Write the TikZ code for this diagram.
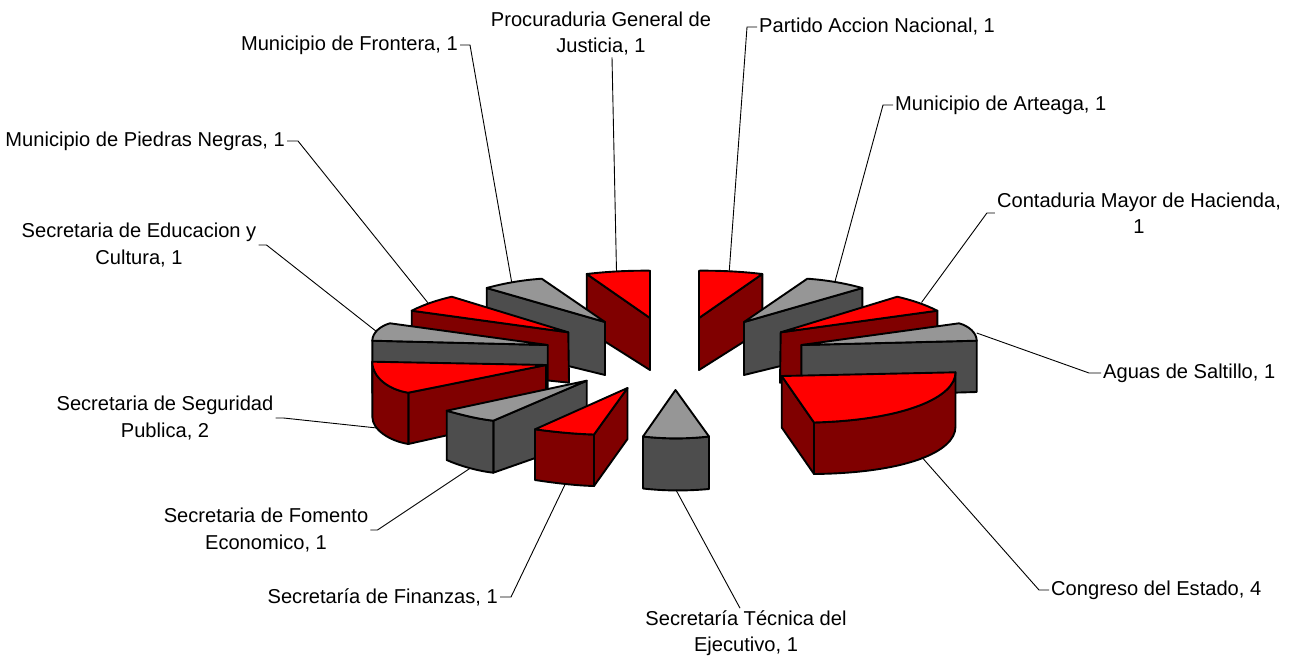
\documentclass[tikz,border=0pt]{standalone}
\usepackage{fontspec}
\setmainfont{Liberation Sans}
\definecolor{pieRed}{RGB}{255,0,0}
\definecolor{pieDarkRed}{RGB}{128,0,0}
\definecolor{pieGrey}{RGB}{150,150,150}
\definecolor{pieDarkGrey}{RGB}{77,77,77}
\begin{document}
\begin{tikzpicture}[x=1pt,y=-1pt,
  face/.style={draw=black,line width=1.9pt,line join=round},
  redtop/.style={face,fill=pieRed},
  redside/.style={face,fill=pieDarkRed},
  greytop/.style={face,fill=pieGrey},
  greyside/.style={face,fill=pieDarkGrey},
  leader/.style={draw=black,line width=0.9pt},
  lbl/.style={inner sep=0pt,font=\fontsize{20.1}{26.3}\selectfont,align=center}]
\useasboundingbox (0,0) rectangle (1290,659);

% ---------- back slices ----------
% Procuraduria
\draw[redside] (586.7,274) -- (650,318) -- (650,370) -- (586.7,330) -- cycle;
\draw[redtop] (586.7,274) .. controls (608,271.5) and (629,270.5) .. (650,270.7) -- (650,318) -- cycle;
% Partido
\draw[redside] (762.3,274) -- (699,318) -- (699,370) -- (762.3,330) -- cycle;
\draw[redtop] (762.3,274) .. controls (741,271.5) and (720,270.5) .. (699,270.7) -- (699,318) -- cycle;
% Frontera
\draw[greyside] (486.7,288) -- (605,322) -- (605,375) -- (486.7,346) -- cycle;
\draw[greytop] (486.7,288) .. controls (505,283) and (523,280) .. (541.7,278.7) -- (605,322) -- cycle;
% Arteaga
\draw[greyside] (862.3,288) -- (744,322) -- (744,375) -- (862.3,346) -- cycle;
\draw[greytop] (862.3,288) .. controls (844,283) and (826,280) .. (807.3,278.7) -- (744,322) -- cycle;
% Piedras Negras
\draw[redside] (411.7,310.7) -- (568.3,332.3) -- (569,382.7) -- (411.7,366) -- cycle;
\draw[redtop] (411.7,310.7) .. controls (425,304) and (438,300) .. (451.7,296.7) -- (568.3,332.3) -- cycle;
% Contaduria
\draw[redside] (937.3,310.7) -- (780.7,332.3) -- (780,382.7) -- (937.3,366) -- cycle;
\draw[redtop] (937.3,310.7) .. controls (924,304) and (911,300) .. (897.3,296.7) -- (780.7,332.3) -- cycle;
% Educacion
\draw[greyside] (372.3,340.7) -- (547.7,345) -- (547.7,397) -- (372.3,393) -- cycle;
\draw[greytop] (372.3,340.7) .. controls (372.3,333) and (380,326) .. (390,323.3) -- (547.7,345) -- cycle;
% Aguas
\draw[greyside] (976.7,340.7) -- (801.3,345) -- (801.3,397) -- (976.7,392) -- cycle;
\draw[greytop] (976.7,340.7) .. controls (976.7,333) and (969,326) .. (959,323.3) -- (801.3,345) -- cycle;

% ---------- front slices ----------
% Seguridad
\draw[redside] (408.3,392.7) -- (546,365) -- (546,413) -- (408.3,444) -- cycle;
\draw[redside] (372.3,361.7) .. controls (372.3,378) and (390,390) .. (408.3,392.7) -- (408.3,444) .. controls (390,441) and (372.3,430) .. (372.3,416.7) -- cycle;
\draw[redtop] (372.3,361.7) .. controls (372.3,378) and (390,390) .. (408.3,392.7) -- (546,365) -- cycle;
% Congreso
\draw[redside] (781.7,376) -- (814,422.5) -- (814,474) -- (781.7,427.5) -- cycle;
\draw[redside] (814,422.5) .. controls (905,420) and (955.5,397) .. (955.5,372.3) -- (955.5,426.7) .. controls (955.5,452) and (905,473) .. (814,474) -- cycle;
\draw[redtop] (781.7,376) -- (955.5,372.3) .. controls (955.5,397) and (905,420) .. (814,422.5) -- cycle;
% Fomento
\draw[greyside] (493.3,420.7) -- (586.7,380.7) -- (586.7,440) -- (493.3,472.7) -- cycle;
\draw[greyside] (446.7,410.7) .. controls (462,415) and (478,419) .. (493.3,420.7) -- (493.3,472.7) .. controls (478,471) and (460,466) .. (446.7,460) -- cycle;
\draw[greytop] (446.7,410.7) .. controls (462,415) and (478,419) .. (493.3,420.7) -- (586.7,380.7) -- cycle;
% Finanzas
\draw[redside] (594,434.5) -- (627.5,388) -- (627.5,439) -- (594,486) -- cycle;
\draw[redside] (535,429.3) .. controls (555,432) and (575,434) .. (594,434.5) -- (594,486) .. controls (575,485.5) and (555,483) .. (535,480) -- cycle;
\draw[redtop] (535,429.3) .. controls (555,432) and (575,434) .. (594,434.5) -- (627.5,388) -- cycle;
% Tecnica
\draw[greyside] (643,436.5) .. controls (665,439) and (687,439) .. (709,436.5) -- (709,489) .. controls (687,491) and (665,491) .. (643,488.5) -- cycle;
\draw[greytop] (643,436.5) .. controls (665,439) and (687,439) .. (709,436.5) -- (675.5,390) -- cycle;

% ---------- leader anchors ----------
\coordinate (pProc) at (616.5,271.5);
\coordinate (pPart) at (729.3,270.5);
\coordinate (pArte) at (835,281.5);
\coordinate (pCont) at (921.5,302.5);
\coordinate (pAgua) at (976.7,333);
\coordinate (pCong) at (921.7,457);
\coordinate (pTecn) at (676,490);
\coordinate (pFina) at (565,484.5);
\coordinate (pFome) at (470,468.3);
\coordinate (pSegu) at (377,428);
\coordinate (pEduc) at (376.7,331.7);
\coordinate (pPied) at (428.3,303.3);
\coordinate (pFron) at (511.7,282.3);

% ---------- labels ----------
\node[lbl] (lProc) at (601,33.5) {Procuraduria General de\\Justicia, 1};
\node[lbl,anchor=west] (lPart) at (759,27) {Partido Accion Nacional, 1};
\node[lbl,anchor=west] (lArte) at (895,105) {Municipio de Arteaga, 1};
\node[lbl] (lCont) at (1139,213) {Contaduria Mayor de Hacienda,\\1};
\node[lbl,anchor=west] (lAgua) at (1103,373) {Aguas de Saltillo, 1};
\node[lbl,anchor=west] (lCong) at (1051,590) {Congreso del Estado, 4};
\node[lbl] (lTecn) at (746,633) {Secretaría Técnica del\\Ejecutivo, 1};
\node[lbl,anchor=east] (lFina) at (498,597) {Secretaría de Finanzas, 1};
\node[lbl] (lFome) at (266,530) {Secretaria de Fomento\\Economico, 1};
\node[lbl] (lSegu) at (165,418) {Secretaria de Seguridad\\Publica, 2};
\node[lbl] (lEduc) at (139,245) {Secretaria de Educacion y\\Cultura, 1};
\node[lbl,anchor=east] (lPied) at (285,141) {Municipio de Piedras Negras, 1};
\node[lbl,anchor=east] (lFron) at (458,45) {Municipio de Frontera, 1};

% ---------- leader lines ----------
\draw[leader] ([xshift=11pt,yshift=-2pt]lProc.south) -- (pProc);
\draw[leader] ([xshift=-2pt]lPart.west) -- ++(-10,0) -- (pPart);
\draw[leader] ([xshift=-2pt]lArte.west) -- ++(-10,0) -- (pArte);
\draw[leader] ([xshift=-2pt]lCont.west) -- ++(-8,0) -- (pCont);
\draw[leader] ([xshift=-2pt]lAgua.west) -- ++(-12,0) -- (pAgua);
\draw[leader] ([xshift=-2pt]lCong.west) -- ++(-10,0) -- (pCong);
\draw[leader] ([xshift=-6pt,yshift=2pt]lTecn.north) -- (pTecn);
\draw[leader] ([xshift=2pt]lFina.east) -- ++(11,0) -- (pFina);
\draw[leader] ([xshift=2pt]lFome.east) -- ++(7,0) -- (pFome);
\draw[leader] ([xshift=2pt]lSegu.east) -- ++(8,0) -- (pSegu);
\draw[leader] ([xshift=2pt]lEduc.east) -- ++(8,0) -- (pEduc);
\draw[leader] ([xshift=2pt]lPied.east) -- ++(11,0) -- (pPied);
\draw[leader] ([xshift=2pt]lFron.east) -- ++(10,0) -- (pFron);
\end{tikzpicture}
\end{document}
